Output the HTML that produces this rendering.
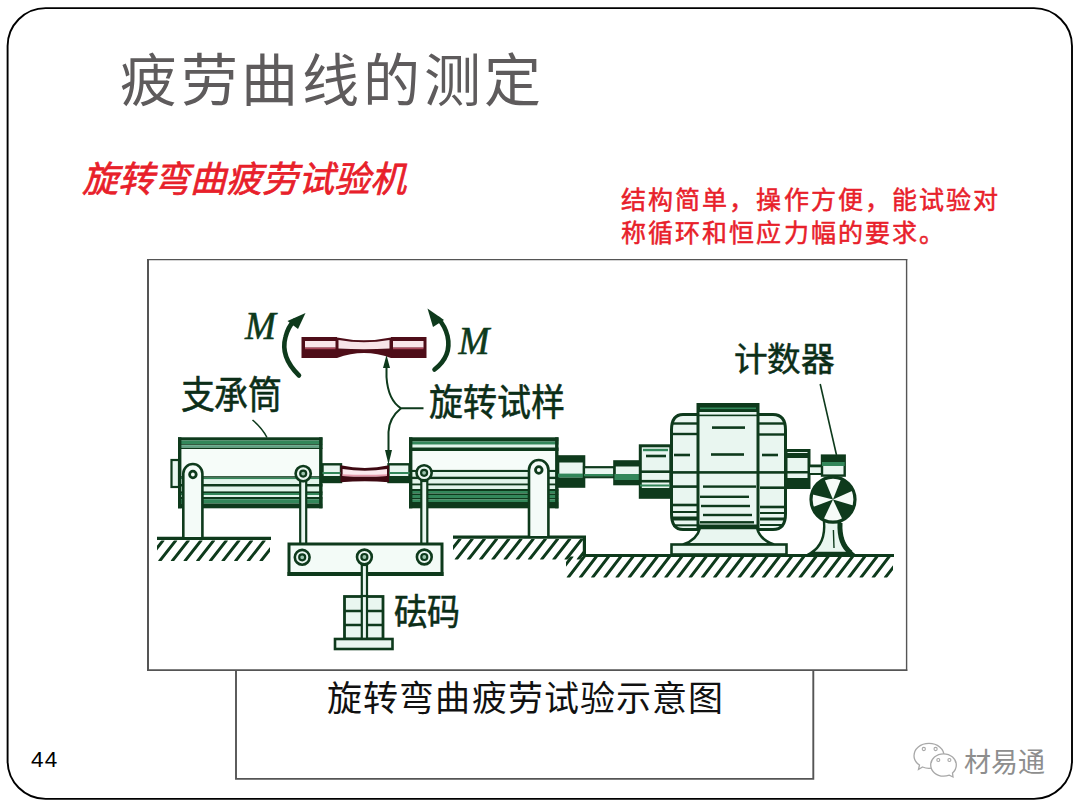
<!DOCTYPE html>
<html lang="zh-CN"><head><meta charset="utf-8">
<style>
html,body{margin:0;padding:0;background:#fff;}
body{width:1080px;height:810px;position:relative;overflow:hidden;font-family:"Liberation Sans",sans-serif;}
.title{position:absolute;left:120px;top:40.5px;font-size:57px;letter-spacing:3.7px;color:#5e5b5c;white-space:nowrap;line-height:80px;}
.sub{position:absolute;left:82px;top:154.5px;font-size:36px;letter-spacing:0px;color:#e8202a;font-style:italic;-webkit-text-stroke:0.7px #e8202a;white-space:nowrap;line-height:50px;}
.note{position:absolute;left:621px;top:183.5px;font-size:25px;letter-spacing:2.1px;color:#e8202a;-webkit-text-stroke:0.5px #e8202a;line-height:33.5px;white-space:nowrap;}
.captext{position:absolute;left:327px;top:675px;font-family:"Liberation Serif",serif;font-size:35px;letter-spacing:1.15px;color:#111;white-space:nowrap;line-height:50px;}
.pnum{position:absolute;left:31px;top:746.3px;font-size:22.5px;letter-spacing:1.3px;color:#000;line-height:28px;}
.logo{position:absolute;left:964px;top:744px;font-size:27px;color:#8e8e8e;white-space:nowrap;line-height:38px;text-shadow:0 0 2px #fff;}
svg.d{position:absolute;left:0;top:0;}
.lbl{font-family:"Liberation Sans",sans-serif;fill:#0c2e18;}
</style></head>
<body>
<div class="title">疲劳曲线的测定</div>
<div class="sub">旋转弯曲疲劳试验机</div>
<div class="note">结构简单，操作方便，能试验对<br>称循环和恒应力幅的要求。</div>
<div class="captext">旋转弯曲疲劳试验示意图</div>
<div class="pnum">44</div>
<div class="logo">材易通</div>
<svg class="d" width="1080" height="810" viewBox="0 0 1080 810">
<rect x="7.6" y="8.1" width="1064.4" height="790.8" rx="38" ry="38" fill="none" stroke="#000" stroke-width="1.9"/>
<path d="M236,669 L236,778.9 L813.3,778.9 L813.3,669" fill="none" stroke="#555" stroke-width="1.9"/>
<rect x="148" y="259.6" width="758.6" height="410.6" fill="#fff" stroke="none"/>
<path d="M148,259 L148,671" stroke="#555" stroke-width="2" fill="none"/>
<path d="M147,259.6 L907.3,259.6" stroke="#555" stroke-width="1.3" fill="none"/>
<path d="M906.6,259 L906.6,671" stroke="#555" stroke-width="1.4" fill="none"/>
<path d="M147,670.1 L907.3,670.1" stroke="#555" stroke-width="1.7" fill="none"/>
<clipPath id="c1"><rect x="157" y="540.5" width="113" height="20.5"/></clipPath>
<g clip-path="url(#c1)" stroke="#0e3a1c" stroke-width="2.9" stroke-linecap="round">
<line x1="147.0" y1="561" x2="163.0" y2="540.5"/>
<line x1="159.7" y1="561" x2="175.7" y2="540.5"/>
<line x1="172.3" y1="561" x2="188.3" y2="540.5"/>
<line x1="185.0" y1="561" x2="201.0" y2="540.5"/>
<line x1="197.6" y1="561" x2="213.6" y2="540.5"/>
<line x1="210.3" y1="561" x2="226.3" y2="540.5"/>
<line x1="222.9" y1="561" x2="238.9" y2="540.5"/>
<line x1="235.6" y1="561" x2="251.6" y2="540.5"/>
<line x1="248.2" y1="561" x2="264.2" y2="540.5"/>
<line x1="260.9" y1="561" x2="276.9" y2="540.5"/>
</g>
<line x1="157" y1="538.4" x2="271" y2="538.4" stroke="#0e3a1c" stroke-width="3.4"/>
<clipPath id="c2"><rect x="453" y="539" width="131" height="20.5"/></clipPath>
<g clip-path="url(#c2)" stroke="#0e3a1c" stroke-width="2.9" stroke-linecap="round">
<line x1="444.0" y1="559.5" x2="460.0" y2="539"/>
<line x1="456.2" y1="559.5" x2="472.2" y2="539"/>
<line x1="468.4" y1="559.5" x2="484.4" y2="539"/>
<line x1="480.6" y1="559.5" x2="496.6" y2="539"/>
<line x1="492.8" y1="559.5" x2="508.8" y2="539"/>
<line x1="505.0" y1="559.5" x2="521.0" y2="539"/>
<line x1="517.2" y1="559.5" x2="533.2" y2="539"/>
<line x1="529.4" y1="559.5" x2="545.4" y2="539"/>
<line x1="541.6" y1="559.5" x2="557.6" y2="539"/>
<line x1="553.8" y1="559.5" x2="569.8" y2="539"/>
<line x1="566.0" y1="559.5" x2="582.0" y2="539"/>
<line x1="578.2" y1="559.5" x2="594.2" y2="539"/>
</g>
<clipPath id="c3"><rect x="566" y="556.5" width="327" height="21.0"/></clipPath>
<g clip-path="url(#c3)" stroke="#0e3a1c" stroke-width="2.9" stroke-linecap="round">
<line x1="556.0" y1="577.5" x2="572.0" y2="556.5"/>
<line x1="568.2" y1="577.5" x2="584.2" y2="556.5"/>
<line x1="580.4" y1="577.5" x2="596.4" y2="556.5"/>
<line x1="592.6" y1="577.5" x2="608.6" y2="556.5"/>
<line x1="604.8" y1="577.5" x2="620.8" y2="556.5"/>
<line x1="617.0" y1="577.5" x2="633.0" y2="556.5"/>
<line x1="629.2" y1="577.5" x2="645.2" y2="556.5"/>
<line x1="641.4" y1="577.5" x2="657.4" y2="556.5"/>
<line x1="653.6" y1="577.5" x2="669.6" y2="556.5"/>
<line x1="665.8" y1="577.5" x2="681.8" y2="556.5"/>
<line x1="678.0" y1="577.5" x2="694.0" y2="556.5"/>
<line x1="690.2" y1="577.5" x2="706.2" y2="556.5"/>
<line x1="702.4" y1="577.5" x2="718.4" y2="556.5"/>
<line x1="714.6" y1="577.5" x2="730.6" y2="556.5"/>
<line x1="726.8" y1="577.5" x2="742.8" y2="556.5"/>
<line x1="739.0" y1="577.5" x2="755.0" y2="556.5"/>
<line x1="751.2" y1="577.5" x2="767.2" y2="556.5"/>
<line x1="763.4" y1="577.5" x2="779.4" y2="556.5"/>
<line x1="775.6" y1="577.5" x2="791.6" y2="556.5"/>
<line x1="787.8" y1="577.5" x2="803.8" y2="556.5"/>
<line x1="800.0" y1="577.5" x2="816.0" y2="556.5"/>
<line x1="812.2" y1="577.5" x2="828.2" y2="556.5"/>
<line x1="824.4" y1="577.5" x2="840.4" y2="556.5"/>
<line x1="836.6" y1="577.5" x2="852.6" y2="556.5"/>
<line x1="848.8" y1="577.5" x2="864.8" y2="556.5"/>
<line x1="861.0" y1="577.5" x2="877.0" y2="556.5"/>
<line x1="873.2" y1="577.5" x2="889.2" y2="556.5"/>
<line x1="885.4" y1="577.5" x2="901.4" y2="556.5"/>
</g>
<path d="M453,537.2 L584.4,537.2 L584.4,555.5 L894,555.5" fill="none" stroke="#0e3a1c" stroke-width="3.2"/>
<rect x="178" y="437.3" width="144.5" height="71.0" fill="#f6fcf9"/>
<rect x="178" y="437.3" width="144.5" height="3.20" fill="#0e3a1c"/>
<rect x="178" y="440.5" width="144.5" height="3.70" fill="#33875a"/>
<rect x="178" y="444.2" width="144.5" height="1.00" fill="#0e3a1c"/>
<rect x="178" y="445.2" width="144.5" height="2.60" fill="#5fa383"/>
<rect x="178" y="447.8" width="144.5" height="1.20" fill="#0e3a1c"/>
<rect x="178" y="476.2" width="144.5" height="1.50" fill="#0e3a1c"/>
<rect x="178" y="477.7" width="144.5" height="1.60" fill="#33875a"/>
<rect x="178" y="479.3" width="144.5" height="4.70" fill="#e2f5eb"/>
<rect x="178" y="484" width="144.5" height="2.70" fill="#0e3a1c"/>
<rect x="178" y="486.7" width="144.5" height="4.70" fill="#e2f5eb"/>
<rect x="178" y="491.4" width="144.5" height="1.60" fill="#0e3a1c"/>
<rect x="178" y="493" width="144.5" height="2.00" fill="#33875a"/>
<rect x="178" y="495" width="144.5" height="2.00" fill="#e2f5eb"/>
<rect x="178" y="497" width="144.5" height="2.30" fill="#0e3a1c"/>
<rect x="178" y="499.3" width="144.5" height="4.20" fill="#33875a"/>
<rect x="178" y="503.5" width="144.5" height="4.80" fill="#0e3a1c"/>
<rect x="178" y="437.3" width="3.4" height="71.0" fill="#0e3a1c"/>
<rect x="319.1" y="437.3" width="3.4" height="71.0" fill="#0e3a1c"/>
<rect x="171.5" y="460" width="7.5" height="27" fill="#e9f6f0" stroke="#0e3a1c" stroke-width="2.2"/>
<rect x="409" y="437.3" width="149.5" height="71.0" fill="#f6fcf9"/>
<rect x="409" y="437.3" width="149.5" height="4.20" fill="#0e3a1c"/>
<rect x="409" y="441.5" width="149.5" height="3.20" fill="#33875a"/>
<rect x="409" y="444.7" width="149.5" height="2.80" fill="#e2f5eb"/>
<rect x="409" y="447.5" width="149.5" height="3.50" fill="#0e3a1c"/>
<rect x="409" y="469.9" width="149.5" height="2.10" fill="#0e3a1c"/>
<rect x="409" y="472" width="149.5" height="4.70" fill="#e2f5eb"/>
<rect x="409" y="476.7" width="149.5" height="2.60" fill="#0e3a1c"/>
<rect x="409" y="479.3" width="149.5" height="4.20" fill="#e2f5eb"/>
<rect x="409" y="483.5" width="149.5" height="2.10" fill="#0e3a1c"/>
<rect x="409" y="485.6" width="149.5" height="3.40" fill="#e2f5eb"/>
<rect x="409" y="489" width="149.5" height="2.00" fill="#0e3a1c"/>
<rect x="409" y="491" width="149.5" height="2.50" fill="#33875a"/>
<rect x="409" y="493.5" width="149.5" height="1.50" fill="#0e3a1c"/>
<rect x="409" y="495" width="149.5" height="3.00" fill="#33875a"/>
<rect x="409" y="498" width="149.5" height="1.50" fill="#0e3a1c"/>
<rect x="409" y="499.5" width="149.5" height="2.50" fill="#33875a"/>
<rect x="409" y="502" width="149.5" height="6.30" fill="#0e3a1c"/>
<rect x="409" y="437.3" width="3.4" height="71.0" fill="#0e3a1c"/>
<rect x="555.1" y="437.3" width="3.4" height="71.0" fill="#0e3a1c"/>
<rect x="322.5" y="464.3" width="18.5" height="17.7" fill="#e9f6f0" stroke="#0e3a1c" stroke-width="2.4"/>
<rect x="322.5" y="472" width="18.5" height="2" fill="#33875a"/>
<rect x="322.5" y="476" width="18.5" height="5.5" fill="#0e3a1c"/>
<rect x="388.5" y="464.3" width="21" height="17.7" fill="#e9f6f0" stroke="#0e3a1c" stroke-width="2.4"/>
<rect x="388.5" y="472" width="21" height="2" fill="#33875a"/>
<rect x="388.5" y="476" width="21" height="5.5" fill="#0e3a1c"/>
<path d="M340.5,465.3 Q365,470.5 389,465.3 L389,482.3 Q365,480.3 340.5,482.3 Z" fill="#3e0912"/>
<path d="M342.6,469 Q365,472.6 387,469 L387,476 Q365,477 342.6,476 Z" fill="#fbe9ee"/>
<path d="M342.6,474.3 Q365,475.3 387,474.3 L387,476 Q365,477 342.6,476 Z" fill="#e49aab"/>
<rect x="558" y="456.5" width="26" height="30" fill="#e9f6f0" stroke="#0e3a1c" stroke-width="2.6"/>
<rect x="558" y="456.5" width="26" height="6" fill="#0e3a1c"/>
<rect x="558" y="473.6" width="26" height="4" fill="#33875a"/>
<rect x="558" y="477.6" width="26" height="9" fill="#0e3a1c"/>
<rect x="584" y="467.2" width="30.5" height="10" fill="#e9f6f0" stroke="#0e3a1c" stroke-width="2.2"/>
<rect x="584" y="474" width="30.5" height="2.2" fill="#33875a"/>
<path d="M183.3,537 L183.3,473.55 A9.549999999999997,9.549999999999997 0 0 1 202.4,473.55 L202.4,537" fill="#f4fbf8" stroke="#0e3a1c" stroke-width="2.6"/><circle cx="192.9" cy="474.5" r="3.3" fill="#f4fbf8" stroke="#0e3a1c" stroke-width="2.8"/>
<path d="M529,536 L529,469.7 A9.699999999999989,9.699999999999989 0 0 1 548.4,469.7 L548.4,536" fill="#f4fbf8" stroke="#0e3a1c" stroke-width="2.6"/><circle cx="538.8" cy="470" r="3.3" fill="#f4fbf8" stroke="#0e3a1c" stroke-width="2.8"/>
<rect x="300.2" y="481" width="6" height="70" fill="#e9f6f0" stroke="#0e3a1c" stroke-width="2.2"/>
<rect x="421.3" y="481" width="6" height="70" fill="#e9f6f0" stroke="#0e3a1c" stroke-width="2.2"/>
<rect x="289" y="544" width="153" height="30.5" fill="#f3fbf7" stroke="#0e3a1c" stroke-width="3"/>
<rect x="287.5" y="572" width="156" height="4" fill="#0e3a1c"/>
<rect x="361.79999999999995" y="565" width="5.2" height="74" fill="#e9f6f0" stroke="#0e3a1c" stroke-width="2.2"/>
<circle cx="303.2" cy="473.6" r="7.6" fill="#e9f6f0" stroke="#0e3a1c" stroke-width="2.6"/><circle cx="303.2" cy="473.6" r="3" fill="#9cc4ae" stroke="#0e3a1c" stroke-width="2.2"/>
<circle cx="424.1" cy="472.8" r="7.6" fill="#e9f6f0" stroke="#0e3a1c" stroke-width="2.6"/><circle cx="424.1" cy="472.8" r="3" fill="#9cc4ae" stroke="#0e3a1c" stroke-width="2.2"/>
<circle cx="302.2" cy="557.3" r="7.4" fill="#e9f6f0" stroke="#0e3a1c" stroke-width="2.6"/><circle cx="302.2" cy="557.3" r="3" fill="#9cc4ae" stroke="#0e3a1c" stroke-width="2.2"/>
<circle cx="364.4" cy="557" r="7.4" fill="#e9f6f0" stroke="#0e3a1c" stroke-width="2.6"/><circle cx="364.4" cy="557" r="3" fill="#9cc4ae" stroke="#0e3a1c" stroke-width="2.2"/>
<circle cx="424.3" cy="557" r="7.4" fill="#e9f6f0" stroke="#0e3a1c" stroke-width="2.6"/><circle cx="424.3" cy="557" r="3" fill="#9cc4ae" stroke="#0e3a1c" stroke-width="2.2"/>
<rect x="344.5" y="596.5" width="38.5" height="42.5" fill="#e9f6f0" stroke="#0e3a1c" stroke-width="2.8"/>
<line x1="344.5" y1="611" x2="383" y2="611" stroke="#0e3a1c" stroke-width="2.6"/>
<line x1="344.5" y1="625" x2="383" y2="625" stroke="#0e3a1c" stroke-width="2.6"/>
<rect x="361.79999999999995" y="596" width="5.2" height="43" fill="#e9f6f0" stroke="#0e3a1c" stroke-width="2.2"/>
<rect x="335" y="639" width="57.5" height="10" fill="#e9f6f0" stroke="#0e3a1c" stroke-width="2.6"/>
<rect x="614.5" y="461.5" width="26" height="22.5" fill="#e9f6f0" stroke="#0e3a1c" stroke-width="2.6"/>
<rect x="614.5" y="461" width="26" height="5.5" fill="#0e3a1c"/>
<rect x="614.5" y="474" width="26" height="6" fill="#33875a"/>
<rect x="614.5" y="480" width="26" height="4.3" fill="#0e3a1c"/>
<rect x="640.3" y="445.8" width="30.5" height="51.5" fill="#e9f6f0" stroke="#0e3a1c" stroke-width="3"/>
<rect x="643" y="448.8" width="25" height="2.4" fill="#33875a"/>
<rect x="646" y="454.7" width="20" height="2.6" fill="#0e3a1c"/>
<rect x="640" y="470.4" width="31" height="2.6" fill="#0e3a1c"/>
<rect x="640" y="479.9" width="31" height="2.6" fill="#0e3a1c"/>
<rect x="640" y="484.5" width="31" height="2" fill="#33875a"/>
<rect x="640" y="488.0" width="31" height="9" fill="#0e3a1c"/>
<path d="M698.5,414.5 L683,414.5 Q671.5,414.5 671.5,430 L671.5,514 Q671.5,529.5 683,529.5 L698.5,529.5 Z" fill="#e9f6f0" stroke="#0e3a1c" stroke-width="3"/>
<path d="M757.5,414.5 L773,414.5 Q785.5,414.5 785.5,430 L785.5,514 Q785.5,529.5 773,529.5 L757.5,529.5 Z" fill="#e9f6f0" stroke="#0e3a1c" stroke-width="3"/>
<rect x="698" y="404.5" width="60" height="124" fill="#e9f6f0" stroke="#0e3a1c" stroke-width="3"/>
<rect x="698" y="404.5" width="60" height="7.5" fill="#0e3a1c"/>
<rect x="700" y="407.5" width="56" height="1.6" fill="#33875a"/>
<rect x="673" y="422.3" width="25" height="2.4" fill="#0e3a1c"/>
<rect x="673" y="432.8" width="25" height="2.4" fill="#0e3a1c"/>
<rect x="758" y="422.3" width="26" height="2.4" fill="#0e3a1c"/>
<rect x="758" y="433.3" width="26" height="2.4" fill="#0e3a1c"/>
<rect x="699" y="414.59999999999997" width="58" height="1.6" fill="#0e3a1c"/>
<rect x="712" y="426.3" width="33" height="2.6" fill="#0e3a1c"/>
<rect x="674" y="453.7" width="16" height="2.6" fill="#0e3a1c"/>
<rect x="711" y="453.2" width="33" height="2.6" fill="#0e3a1c"/>
<rect x="762" y="453.7" width="16" height="2.6" fill="#0e3a1c"/>
<rect x="672" y="471.09999999999997" width="113" height="2.6" fill="#0e3a1c"/>
<rect x="673" y="485.3" width="25" height="2.6" fill="#0e3a1c"/>
<rect x="703" y="485.40000000000003" width="53" height="2.4" fill="#0e3a1c"/>
<rect x="760" y="486.4" width="24" height="2.6" fill="#0e3a1c"/>
<rect x="700" y="495.6" width="49" height="2.4" fill="#0e3a1c"/>
<rect x="673" y="503.7" width="25" height="2.6" fill="#0e3a1c"/>
<rect x="701" y="504.8" width="49" height="2.4" fill="#0e3a1c"/>
<rect x="760" y="505.7" width="24" height="2.6" fill="#0e3a1c"/>
<rect x="673" y="511.0" width="25" height="2" fill="#0e3a1c"/>
<rect x="760" y="512.0" width="24" height="2" fill="#0e3a1c"/>
<rect x="703" y="513.8" width="49" height="2.4" fill="#0e3a1c"/>
<rect x="673" y="516.5" width="25" height="4" fill="#0e3a1c"/>
<rect x="760" y="517.5" width="24" height="3" fill="#0e3a1c"/>
<rect x="700" y="521.0999999999999" width="54" height="2.4" fill="#0e3a1c"/>
<rect x="673" y="524.3" width="25" height="2" fill="#0e3a1c"/>
<rect x="760" y="524.0" width="24" height="2" fill="#0e3a1c"/>
<rect x="698" y="524.5" width="60" height="4" fill="#0e3a1c"/>
<path d="M700,528 L757,528 Q760,540 774,544.5 L683,544.5 Q697,540 700,528 Z" fill="#e9f6f0" stroke="#0e3a1c" stroke-width="2.6"/>
<rect x="671.5" y="544.5" width="115" height="10" fill="#e9f6f0" stroke="#0e3a1c" stroke-width="2.6"/>
<rect x="786" y="450.5" width="23" height="37" fill="#e9f6f0" stroke="#0e3a1c" stroke-width="3"/>
<rect x="786" y="453" width="23" height="5" fill="#0e3a1c"/>
<rect x="786" y="471" width="23" height="2.5" fill="#0e3a1c"/>
<rect x="786" y="478" width="23" height="8" fill="#0e3a1c"/>
<rect x="809" y="465.5" width="13" height="8" fill="#e9f6f0" stroke="#0e3a1c" stroke-width="2"/>
<line x1="820.2" y1="384" x2="836.5" y2="455" stroke="#0e3a1c" stroke-width="1.6"/>
<rect x="809" y="466.3" width="13" height="7.7" fill="#e9f6f0" stroke="#0e3a1c" stroke-width="2"/>
<rect x="822" y="455.6" width="22.7" height="20" fill="#e9f6f0" stroke="#0e3a1c" stroke-width="2.4"/>
<rect x="822" y="455.6" width="22.7" height="6.4" fill="#0e3a1c"/>
<rect x="822" y="462" width="22.7" height="4" fill="#33875a"/>
<path d="M824,521 Q826,544 810.7,553 L852,553 Q840,544 840,521 Z" fill="#e9f6f0" stroke="#0e3a1c" stroke-width="2.4"/>
<path d="M840,523 Q839,544 851,553" fill="none" stroke="#0e3a1c" stroke-width="5"/>
<path d="M833.4,530 L834,548" fill="none" stroke="#0e3a1c" stroke-width="1.4"/>
<ellipse cx="833" cy="499.6" rx="22" ry="22.5" fill="#f6fbf8" stroke="#0e3a1c" stroke-width="3.2"/>
<path d="M833,499.6 L853.1,490.4 A22,22.5 0 0 0 841.2,478.7 Z" fill="#0e3a1c"/>
<path d="M833,499.6 L824.4,478.9 A22,22.5 0 0 0 811.7,494.2 Z" fill="#0e3a1c"/>
<path d="M833,499.6 L812.3,507.3 A22,22.5 0 0 0 823.4,519.8 Z" fill="#0e3a1c"/>
<path d="M833,499.6 L842.6,519.8 A22,22.5 0 0 0 854.1,505.8 Z" fill="#0e3a1c"/>
<rect x="301.5" y="337" width="35.5" height="21" fill="#4e0d18"/>
<rect x="305" y="341" width="30.5" height="6.6" fill="#f8e6ea"/>
<rect x="305" y="347.6" width="30.5" height="1.6" fill="#a8485a"/>
<rect x="391" y="337" width="35.5" height="21" fill="#4e0d18"/>
<rect x="393" y="341" width="30.5" height="6.6" fill="#f8e6ea"/>
<rect x="393" y="347.6" width="30.5" height="1.6" fill="#a8485a"/>
<path d="M337,337.5 Q364,343 391,337.5 L391,358 Q364,348 337,358 Z" fill="#4e0d18"/>
<path d="M338.5,340 Q364,344.5 389.5,340 L389.5,348.5 Q364,350 338.5,348.5 Z" fill="#f7e4e8"/>
<path d="M299,375.5 Q280,357 285.5,337 Q288,327 294,321" fill="none" stroke="#0e3a1c" stroke-width="4.6" stroke-linecap="round"/>
<path d="M305.5,313 L287.5,321 L298,329 Z" fill="#0e3a1c"/>
<path d="M434.5,369.5 Q452,356 447.5,336 Q445,326 438.5,319" fill="none" stroke="#0e3a1c" stroke-width="4.6" stroke-linecap="round"/>
<path d="M427.5,308.5 L444,320 L433,327 Z" fill="#0e3a1c"/>
<path d="M423.5,408.3 L401,408.3 Q388,400 386.5,377 L386.5,366" fill="none" stroke="#0e3a1c" stroke-width="2"/>
<path d="M386.5,355 L383,368 L390,368 Z" fill="#0e3a1c"/>
<path d="M401,408.3 Q389,418 388.5,432 L388.5,452" fill="none" stroke="#0e3a1c" stroke-width="2"/>
<path d="M388.5,464.5 L385,450 L392,450 Z" fill="#0e3a1c"/>
<path d="M252.5,420 Q262,428 267,437.5" fill="none" stroke="#0e3a1c" stroke-width="1.6"/>
<text x="245" y="339.5" font-family="Liberation Serif" font-style="italic" font-size="39" fill="#0e3a1c" stroke="#0e3a1c" stroke-width="0.6" transform="translate(245,339.5) scale(0.95,1) translate(-245,-339.5)">M</text>
<text x="458.5" y="354" font-family="Liberation Serif" font-style="italic" font-size="39" fill="#0e3a1c" stroke="#0e3a1c" stroke-width="0.6" transform="translate(458.5,354) scale(0.95,1) translate(-458.5,-354)">M</text>
<text class="lbl" transform="translate(180.5,408.3) scale(1.0,1.12)" x="0" y="0" font-size="34" stroke="#0c2e18" stroke-width="0.5" >支承筒</text>
<text class="lbl" transform="translate(428.5,416) scale(1.0,1.1)" x="0" y="0" font-size="34" stroke="#0c2e18" stroke-width="0.5" >旋转试样</text>
<text class="lbl" transform="translate(734,370.8) scale(1.02,1.0)" x="0" y="0" font-size="33" stroke="#0c2e18" stroke-width="0.5" >计数器</text>
<text class="lbl" transform="translate(393.5,625) scale(1.0,1.1)" x="0" y="0" font-size="33" stroke="#0c2e18" stroke-width="0.5" >砝码</text>
<path d="M929,743.3 C937.5,743.3 944,748.8 944,755.8 C944,762.8 937.5,768.3 929,768.3 C926.5,768.3 924.5,767.8 922.5,767 L918.5,769.5 L919.5,765 C916,762.8 914,759.5 914,755.8 C914,748.8 920.5,743.3 929,743.3 Z" fill="#fff" stroke="#a8a8a8" stroke-width="1.3"/>
<circle cx="923.8" cy="749" r="1.6" fill="none" stroke="#a8a8a8" stroke-width="1.1"/><circle cx="935.6" cy="749" r="1.6" fill="none" stroke="#a8a8a8" stroke-width="1.1"/>
<path d="M943.5,753.8 C950.5,753.8 956.3,758.8 956.3,765 C956.3,768.3 954.8,771 952.5,773 L953,777 L949.3,775.2 C947.5,775.8 945.5,776.2 943.5,776.2 C936.5,776.2 930.7,771.2 930.7,765 C930.7,758.8 936.5,753.8 943.5,753.8 Z" fill="#fff" stroke="#a8a8a8" stroke-width="1.3"/>
<circle cx="938.3" cy="760" r="1.5" fill="none" stroke="#a8a8a8" stroke-width="1.1"/><circle cx="949.4" cy="760" r="1.5" fill="none" stroke="#a8a8a8" stroke-width="1.1"/>
</svg>
</body></html>
